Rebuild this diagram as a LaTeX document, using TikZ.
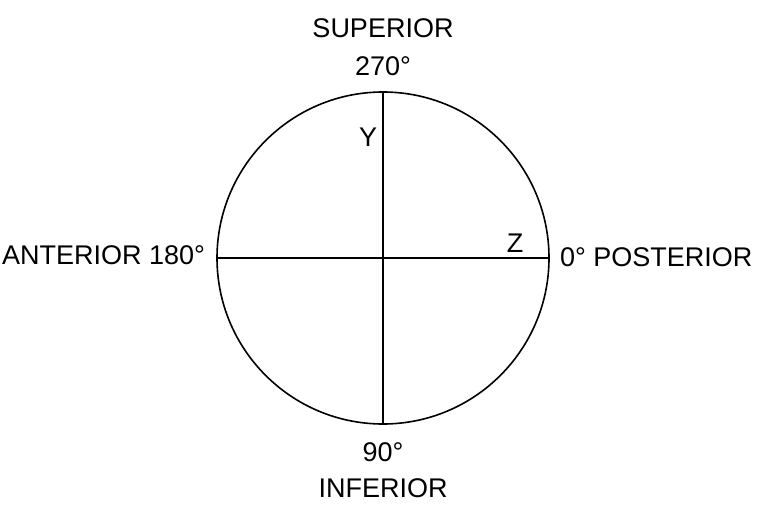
\documentclass[tikz,border=0pt]{standalone}
\usepackage{fontspec}
\setmainfont{Liberation Sans}
\usetikzlibrary{calc}

\begin{document}
\begin{tikzpicture}[x=1pt,y=-1pt,inner sep=0pt,outer sep=0pt,line width=1.6pt,
  lbl/.style={font=\fontsize{27}{30}\selectfont}]
\useasboundingbox (0,0) rectangle (768,508);
\def\r{166}
\node[circle,draw,minimum size=2*\r] (c) at (383, 258) {};
\node[lbl] (sup) at (383, 28) {SUPERIOR};
\node[lbl] (d270) at (383, 66) {270°};
\node[lbl] (d90) at (383, 452) {90°};
\node[lbl] (inf) at (383, 488) {INFERIOR};
\node[lbl,anchor=east] (ant) at (205, 255) {ANTERIOR 180°};
\node[lbl,anchor=west] (post) at (560, 257) {0° POSTERIOR};
\node[lbl] (y) at (368, 137) {Y};
\node[lbl] (z) at (515, 243) {Z};

\draw (c.north) -- (c.south);
\draw (c.west) -- (c.east);
\end{tikzpicture}
\end{document}
